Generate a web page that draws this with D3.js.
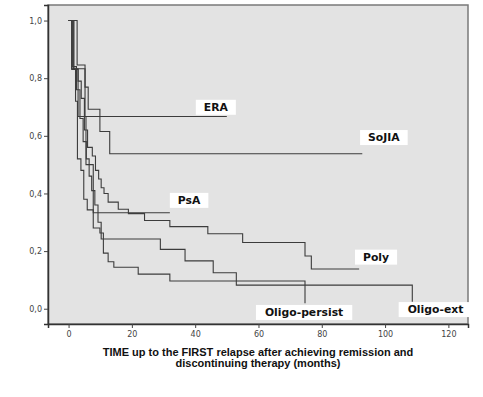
<!DOCTYPE html>
<html>
<head>
<meta charset="utf-8">
<script src="https://cdn.jsdelivr.net/npm/d3@7"></script>
<style>
  body { margin: 0; background: #fff; }
  svg { display: block; }
</style>
</head>
<body>
<div class="chart"></div>
<script>
var svgWidth = 483;
var svgHeight = 397;

// Kaplan-Meier curves: event times (months) and survival after each step
var groups = ["ERA", "SoJIA", "PsA", "Poly", "Oligo-persist", "Oligo-ext"];

var eraTimes = [0, 1.5, 5.2];
var eraSurv = [1, 0.833, 0.667];
var eraEnd = 50;

var sojiaTimes = [0, 2.7, 5.2, 6.2, 9.9, 13];
var sojiaSurv = [1, 0.846, 0.769, 0.692, 0.615, 0.538];
var sojiaEnd = 92.8;

var psaTimes = [0, 1, 3, 5.5, 7.8];
var psaSurv = [1, 0.833, 0.667, 0.5, 0.333];
var psaEnd = 32;

var polyTimes = [0, 1.7, 3, 4, 5, 6, 7.5, 8.5, 9.5, 10.3, 11.2, 12.5, 15.7, 18.9, 24, 32, 44, 55, 74.7, 76.7];
var polySurv = [1, 0.83, 0.79, 0.73, 0.62, 0.56, 0.53, 0.48, 0.45, 0.42, 0.40, 0.37, 0.345, 0.33, 0.306, 0.285, 0.26, 0.23, 0.183, 0.138];
var polyEnd = 91.8;

var persistTimes = [0, 1, 2.2, 2.8, 3.9, 4.8, 5.9, 7.8, 9.9, 11, 12.5, 14.3, 22, 32, 74.7];
var persistSurv = [1, 0.83, 0.72, 0.52, 0.48, 0.38, 0.343, 0.28, 0.263, 0.193, 0.163, 0.144, 0.12, 0.096, 0.019];
var persistEnd = 74.7;

var extTimes = [0, 1.2, 2.5, 3.6, 4.6, 5.6, 6.5, 7.3, 8.3, 9.3, 10.3, 29, 36.8, 45.7, 53, 108.6];
var extSurv = [1, 0.84, 0.76, 0.66, 0.58, 0.52, 0.46, 0.41, 0.36, 0.30, 0.242, 0.206, 0.166, 0.125, 0.082, 0.024];
var extEnd = 108.6;

var xTicks = [0, 20, 40, 60, 80, 100, 120];
var yTicks = [0, 0.2, 0.4, 0.6, 0.8, 1.0];

var xTitle1 = "TIME up to the FIRST relapse after achieving remission and";
var xTitle2 = "discontinuing therapy (months)";

var curves = [
  {name: "ERA", t: eraTimes, s: eraSurv, end: eraEnd},
  {name: "SoJIA", t: sojiaTimes, s: sojiaSurv, end: sojiaEnd},
  {name: "PsA", t: psaTimes, s: psaSurv, end: psaEnd},
  {name: "Poly", t: polyTimes, s: polySurv, end: polyEnd},
  {name: "Oligo-persist", t: persistTimes, s: persistSurv, end: persistEnd},
  {name: "Oligo-ext", t: extTimes, s: extSurv, end: extEnd}
];

// label anchor: month of box left edge, survival of box bottom edge
var labelMonth = [40.2, 92.1, 32.0, 90.5, 59.2, 104.3];
var labelSurv = [0.673, 0.568, 0.350, 0.153, -0.039, -0.029];

var svg = d3.select(".chart")
  .append("svg")
  .attr("width", svgWidth)
  .attr("height", svgHeight);

var x = d3.scaleLinear().domain([-6.5, 126.2]).range([48, 468]);
var y = d3.scaleLinear().domain([-0.053, 1.054]).range([324, 5]);

// plot area
svg.append("rect")
  .attr("x", x.range()[0]).attr("y", y.range()[1])
  .attr("width", x.range()[1] - x.range()[0])
  .attr("height", y.range()[0] - y.range()[1])
  .attr("fill", "#e3e3e3")
  .attr("stroke", "#7a7a7a")
  .attr("stroke-width", 1.5);

var lineFunc = d3.line()
  .x(function(d) { return x(d[0]) })
  .y(function(d) { return y(d[1]) })
  .curve(d3.curveStepAfter);

curves.forEach(function(c) {
  var pts = c.t.map(function(t, i) { return [t, c.s[i]] });
  pts.push([c.end, c.s[c.s.length - 1]]);
  svg.append("path")
    .attr("d", lineFunc(pts))
    .attr("fill", "none")
    .attr("stroke", "#3c3c3c")
    .attr("stroke-width", 1.1);
});

// labels: white box sized to the text
groups.forEach(function(g, i) {
  var bx = x(labelMonth[i]), bottom = y(labelSurv[i]);
  var box = svg.append("rect").attr("fill", "#fff");
  var txt = svg.append("text")
    .attr("y", bottom - 4)
    .attr("font-family", "DejaVu Sans")
    .attr("font-weight", "bold")
    .attr("font-size", "10.8px")
    .attr("fill", "#111")
    .text(g);
  var w = txt.node().getComputedTextLength();
  var pad = g.length > 6 ? 9 : 8;
  txt.attr("x", bx + pad);
  box.attr("x", bx).attr("y", bottom - 15)
    .attr("width", w + pad * 2).attr("height", 15);
});

// axes
var yAxis = svg.append("g")
  .attr("transform", "translate(48,0)")
  .call(d3.axisLeft(y).tickValues(yTicks).tickSize(4).tickPadding(2)
    .tickFormat(function(d) { return d3.format(".1f")(d).replace(".", ","); }));
var xAxis = svg.append("g")
  .attr("transform", "translate(0,324)")
  .call(d3.axisBottom(x).tickValues(xTicks).tickSize(4).tickPadding(3));

[yAxis, xAxis].forEach(function(a) {
  a.select(".domain").attr("stroke", "#333").attr("stroke-width", 1.5);
  a.selectAll(".tick line").attr("stroke", "#444");
  a.selectAll(".tick text")
    .attr("font-family", "DejaVu Sans")
    .attr("font-size", "8px")
    .attr("fill", "#444");
});

svg.append("text")
  .attr("x", 258).attr("y", 356)
  .attr("text-anchor", "middle")
  .attr("font-family", "Liberation Sans")
  .attr("font-weight", "bold")
  .attr("font-size", "11px")
  .attr("fill", "#111")
  .text(xTitle1);
svg.append("text")
  .attr("x", 258).attr("y", 366.5)
  .attr("text-anchor", "middle")
  .attr("font-family", "Liberation Sans")
  .attr("font-weight", "bold")
  .attr("font-size", "11px")
  .attr("fill", "#111")
  .text(xTitle2);
</script>
</body>
</html>
